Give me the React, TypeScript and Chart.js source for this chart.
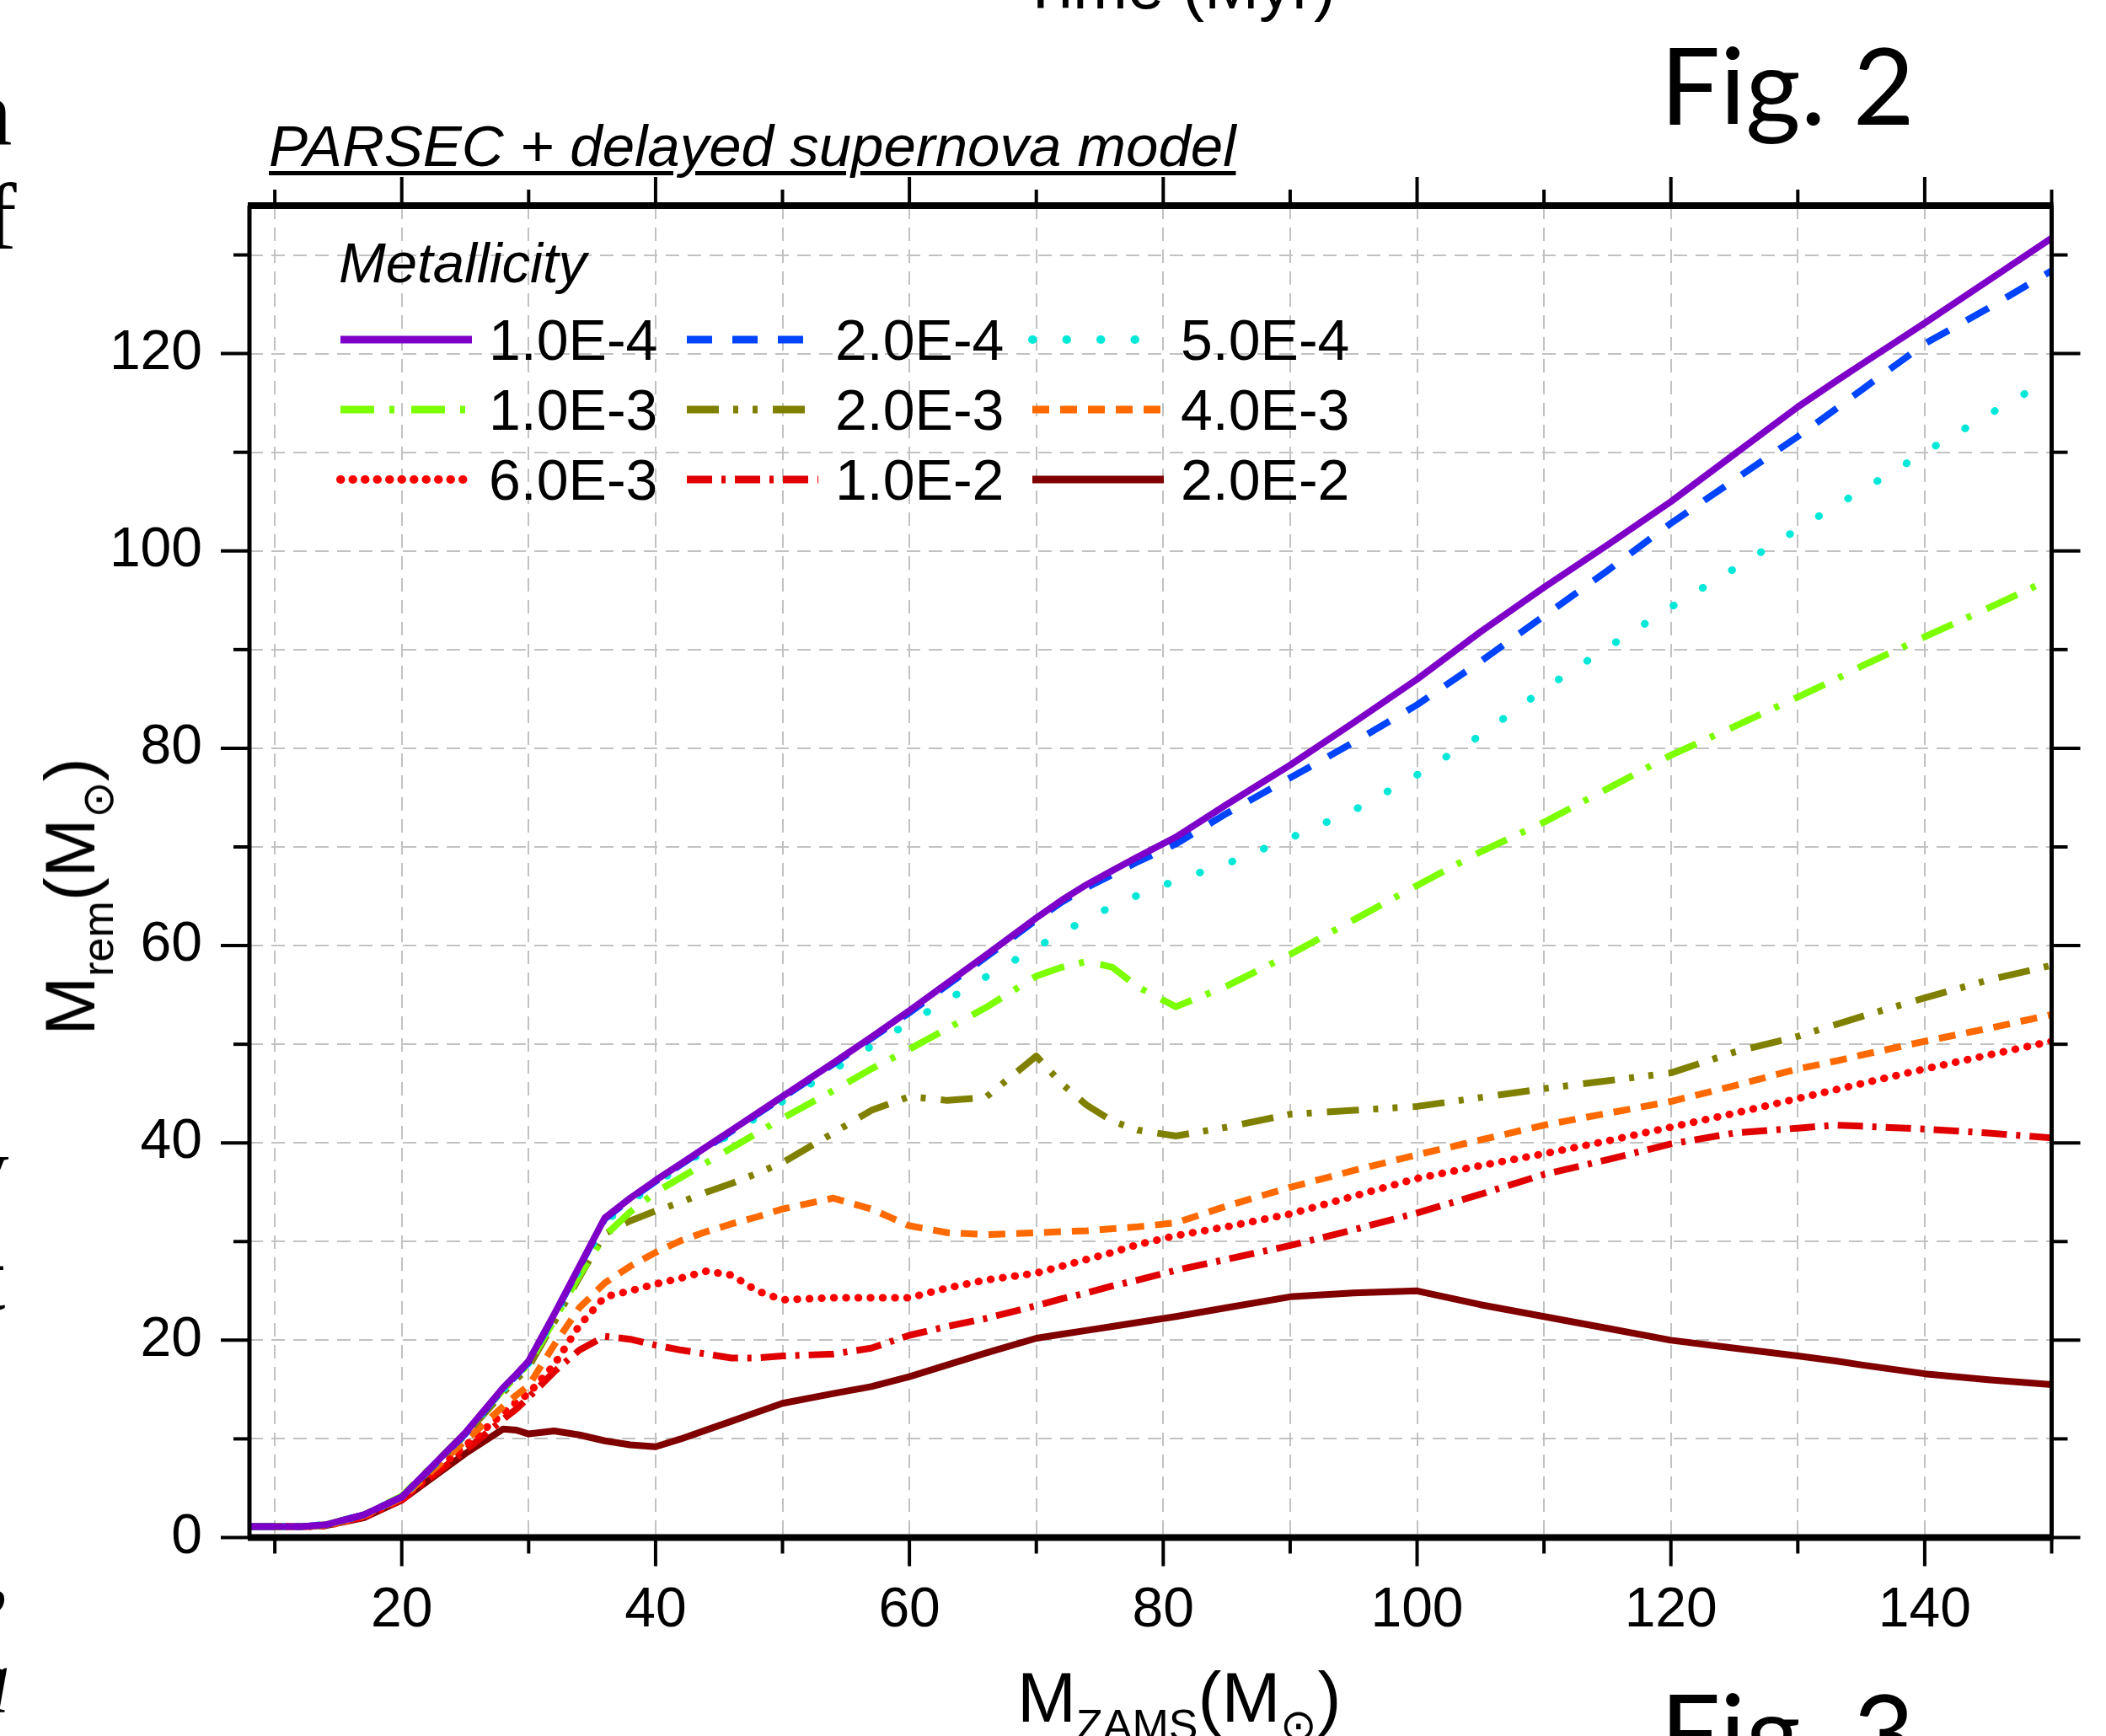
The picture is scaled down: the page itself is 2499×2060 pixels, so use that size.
import React, { useEffect, useRef } from "react";
import { Chart, registerables } from "chart.js";

Chart.register(...registerables);

// ---------------- data ----------------
const MASS = [8, 12, 14, 17, 20, 25, 28, 29, 30, 32, 34, 36, 38, 40, 42, 44, 46, 48, 50, 54, 57, 60, 63, 66, 70, 72, 74, 76, 78, 81, 85, 90, 95, 100, 105, 110, 115, 120, 125, 130, 133, 135, 140, 145, 150];

const Z_1E4 = [1.1, 1.1, 1.3, 2.3, 4.1, 10.6, 15.2, 16.5, 17.9, 22.6, 27.5, 32.4, 34.4, 36.2, 37.9, 39.6, 41.3, 43.0, 44.7, 48.1, 50.7, 53.4, 56.2, 59.0, 62.8, 64.6, 66.2, 67.6, 69.0, 71.0, 74.3, 78.3, 82.6, 87.0, 91.8, 96.3, 100.6, 105.0, 109.8, 114.6, 117.2, 118.9, 123.1, 127.4, 131.7];
const Z_2E4 = [1.1, 1.1, 1.3, 2.3, 4.1, 10.5, 15.1, 16.4, 17.8, 22.5, 27.4, 32.3, 34.3, 36.1, 37.8, 39.5, 41.2, 42.9, 44.6, 48.0, 50.6, 53.2, 56.0, 58.8, 62.6, 64.4, 65.9, 67.2, 68.5, 70.3, 73.4, 77.0, 80.6, 84.4, 88.8, 93.4, 98.0, 102.8, 107.2, 111.6, 114.4, 116.3, 121.0, 124.6, 128.4];
const Z_5E4 = [1.1, 1.1, 1.3, 2.3, 4.1, 10.5, 15.0, 16.3, 17.7, 22.4, 27.2, 32.0, 34.0, 35.9, 37.6, 39.3, 41.0, 42.6, 44.2, 47.4, 49.8, 52.2, 54.5, 56.8, 59.8, 61.3, 62.7, 64.0, 65.1, 66.6, 68.3, 70.9, 73.7, 77.3, 81.3, 86.0, 90.2, 94.3, 98.2, 102.2, 104.6, 106.1, 110.0, 113.8, 117.5];
const Z_1E3 = [1.1, 1.1, 1.3, 2.3, 4.2, 10.6, 15.0, 16.3, 17.6, 22.0, 26.6, 30.6, 33.0, 35.0, 36.5, 38.0, 39.5, 41.0, 42.5, 45.3, 47.5, 49.5, 51.6, 53.7, 56.9, 57.8, 58.4, 57.8, 55.8, 53.8, 55.9, 59.1, 62.6, 66.1, 69.5, 72.5, 75.9, 79.3, 82.2, 85.2, 87.0, 88.3, 91.3, 94.2, 97.2];
const Z_2E3 = [1.1, 1.1, 1.3, 2.3, 4.1, 10.4, 14.7, 16.0, 17.3, 21.8, 26.4, 30.8, 32.1, 33.1, 34.0, 35.0, 35.9, 36.9, 38.0, 41.0, 43.3, 44.7, 44.3, 44.6, 48.8, 46.0, 43.8, 42.2, 41.3, 40.7, 41.6, 42.9, 43.3, 43.7, 44.6, 45.5, 46.3, 47.1, 49.2, 50.8, 52.0, 52.8, 54.7, 56.5, 58.0];
const Z_4E3 = [1.1, 1.1, 1.2, 2.2, 4.0, 9.8, 13.3, 14.4, 15.4, 19.5, 23.3, 25.8, 27.5, 28.9, 30.1, 31.0, 31.8, 32.5, 33.3, 34.4, 33.3, 31.6, 30.9, 30.7, 30.9, 31.0, 31.1, 31.3, 31.5, 31.9, 33.6, 35.5, 37.2, 38.8, 40.3, 41.8, 43.0, 44.2, 45.8, 47.5, 48.3, 48.9, 50.3, 51.6, 53.0];
const Z_6E3 = [1.1, 1.1, 1.2, 2.1, 3.9, 9.3, 12.6, 13.7, 14.6, 17.5, 21.5, 24.4, 25.0, 25.7, 26.3, 27.0, 26.6, 25.0, 24.1, 24.3, 24.3, 24.3, 25.3, 26.1, 26.8, 27.5, 28.2, 28.9, 29.7, 30.6, 31.5, 32.8, 34.6, 36.4, 37.7, 38.9, 40.2, 41.6, 43.0, 44.5, 45.4, 46.0, 47.5, 48.9, 50.3];
const Z_1E2 = [1.1, 1.1, 1.2, 2.1, 3.8, 8.8, 12.0, 13.0, 14.2, 16.8, 19.0, 20.4, 20.1, 19.5, 19.0, 18.6, 18.2, 18.2, 18.4, 18.6, 19.2, 20.5, 21.4, 22.2, 23.5, 24.2, 24.8, 25.5, 26.1, 27.1, 28.2, 29.6, 31.2, 32.9, 34.8, 36.8, 38.3, 39.9, 41.0, 41.5, 41.8, 41.7, 41.4, 41.0, 40.5];
const Z_2E2 = [1.1, 1.1, 1.2, 2.0, 3.8, 8.5, 11.0, 10.9, 10.5, 10.8, 10.4, 9.8, 9.4, 9.2, 10.0, 10.9, 11.8, 12.7, 13.6, 14.6, 15.3, 16.3, 17.5, 18.7, 20.2, 20.6, 21.0, 21.4, 21.8, 22.4, 23.3, 24.4, 24.8, 25.0, 23.6, 22.4, 21.2, 20.0, 19.2, 18.4, 17.9, 17.5, 16.6, 16.0, 15.5];

const SERIES_LABELS = ["1.0E-4", "2.0E-4", "5.0E-4", "1.0E-3", "2.0E-3", "4.0E-3", "6.0E-3", "1.0E-2", "2.0E-2"];
const SERIES_VALUES = [Z_1E4, Z_2E4, Z_5E4, Z_1E3, Z_2E3, Z_4E3, Z_6E3, Z_1E2, Z_2E2];

const X_MAJOR = [20, 40, 60, 80, 100, 120, 140];
const X_MINOR = [10, 30, 50, 70, 90, 110, 130, 150];
const Y_MAJOR = [0, 20, 40, 60, 80, 100, 120];
const Y_MINOR = [10, 30, 50, 70, 90, 110, 130];
const X_GRID = [10, 20, 30, 40, 50, 60, 70, 80, 90, 100, 110, 120, 130, 140];
const Y_GRID = [10, 20, 30, 40, 50, 60, 70, 80, 90, 100, 110, 120, 130];

// ---------------- styles ----------------
const STYLES = [
  { color: "#7E00C8", dash: [], cap: "butt", width: 8 },
  { color: "#0044FF", dash: [30, 24], cap: "butt", width: 8 },
  { color: "#00E8D8", dash: [0.5, 40], cap: "round", width: 9 },
  { color: "#7CFF00", dash: [40, 18, 6, 20], cap: "butt", width: 8 },
  { color: "#808000", dash: [38, 17, 6, 17, 6, 18], cap: "butt", width: 8 },
  { color: "#FF6A00", dash: [20, 13], cap: "butt", width: 8 },
  { color: "#FF0000", dash: [0.5, 14], cap: "round", width: 9 },
  { color: "#E00000", dash: [30, 11, 5, 11], cap: "butt", width: 8 },
  { color: "#800000", dash: [], cap: "butt", width: 8 },
];

const SANS = '"Liberation Sans", Arial, sans-serif';

const gridPlugin = {
  id: "dashGrid",
  beforeDatasetsDraw(chart: any) {
    const { ctx, chartArea: a, scales } = chart;
    const x = scales.x, y = scales.y;
    ctx.save();
    ctx.strokeStyle = "#c2c2c2";
    ctx.lineWidth = 2;
    ctx.setLineDash([16, 10]);
    for (const v of X_GRID) {
      const px = Math.round(x.getPixelForValue(v));
      ctx.beginPath();
      ctx.moveTo(px, a.top);
      ctx.lineTo(px, a.bottom);
      ctx.stroke();
    }
    for (const v of Y_GRID) {
      const py = Math.round(y.getPixelForValue(v));
      ctx.beginPath();
      ctx.moveTo(a.left, py);
      ctx.lineTo(a.right, py);
      ctx.stroke();
    }
    ctx.restore();
  },
};

const framePlugin = {
  id: "frame",
  afterDatasetsDraw(chart: any) {
    const { ctx, chartArea: a, scales } = chart;
    const x = scales.x, y = scales.y;
    ctx.save();
    ctx.strokeStyle = "#000";
    ctx.setLineDash([]);
    ctx.lineWidth = 4;
    const seg = (x1: number, y1: number, x2: number, y2: number) => {
      ctx.beginPath();
      ctx.moveTo(x1, y1);
      ctx.lineTo(x2, y2);
      ctx.stroke();
    };
    const xt = (vals: number[], len: number) => {
      for (const v of vals) {
        const px = x.getPixelForValue(v);
        seg(px, a.bottom, px, a.bottom + len);
        seg(px, a.top, px, a.top - len);
      }
    };
    const yt = (vals: number[], len: number) => {
      for (const v of vals) {
        const py = y.getPixelForValue(v);
        seg(a.left, py, a.left - len, py);
        seg(a.right, py, a.right + len, py);
      }
    };
    xt(X_MAJOR, 34);
    xt(X_MINOR, 19);
    yt(Y_MAJOR, 34);
    yt(Y_MINOR, 19);
    ctx.lineWidth = 8;
    seg(a.left - 2, a.top, a.right + 2, a.top);
    seg(a.left - 2, a.bottom, a.right + 2, a.bottom);
    ctx.lineWidth = 5;
    seg(a.left, a.top, a.left, a.bottom);
    seg(a.right, a.top, a.right, a.bottom);
    ctx.restore();
  },
};

const legendPlugin = {
  id: "metalLegend",
  afterDatasetsDraw(chart: any) {
    const { ctx, chartArea: a } = chart;
    const colX = [a.left + 104, a.left + 515, a.left + 925];
    const rowY = [a.top + 159, a.top + 242, a.top + 325];
    ctx.save();
    ctx.fillStyle = "#000";
    ctx.textBaseline = "alphabetic";
    ctx.font = `italic 67px ${SANS}`;
    ctx.fillText("Metallicity", a.left + 106, a.top + 91);
    ctx.font = `68px ${SANS}`;
    chart.data.datasets.forEach((ds: any, i: number) => {
      const cx = colX[i % 3];
      const cy = rowY[Math.floor(i / 3)];
      ctx.strokeStyle = ds.borderColor;
      ctx.lineWidth = ds.borderCapStyle === "round" ? 10 : 9;
      ctx.lineCap = ds.borderCapStyle;
      ctx.setLineDash(ds.borderDash);
      ctx.beginPath();
      ctx.moveTo(cx + 4, cy);
      ctx.lineTo(cx + 160, cy);
      ctx.stroke();
      ctx.setLineDash([]);
      ctx.fillText(ds.label, cx + 180, cy + 24);
    });
    ctx.restore();
  },
};

export default function App() {
  const ref = useRef<HTMLCanvasElement | null>(null);
  useEffect(() => {
    if (!ref.current) return;
    const chart = new Chart(ref.current, {
      type: "line",
      data: {
        datasets: SERIES_VALUES.map((vals, i) => ({
          label: SERIES_LABELS[i],
          data: MASS.map((m, j) => ({ x: m, y: vals[j] })),
          borderColor: STYLES[i].color,
          backgroundColor: STYLES[i].color,
          borderWidth: STYLES[i].width,
          borderDash: STYLES[i].dash,
          borderCapStyle: STYLES[i].cap as any,
          borderJoinStyle: "round",
          pointRadius: 0,
          tension: 0,
          fill: false,
        })),
      },
      options: {
        responsive: false,
        animation: false,
        devicePixelRatio: 1,
        layout: { padding: { left: 0, top: 244, right: 64.5, bottom: 0 } },
        plugins: { legend: { display: false }, tooltip: { enabled: false } },
        scales: {
          x: {
            type: "linear",
            min: 8,
            max: 150,
            grid: { display: false, drawTicks: false, tickLength: 0 },
            border: { display: false },
            ticks: {
              stepSize: 20,
              includeBounds: false,
              autoSkip: false,
              maxRotation: 0,
              padding: 48,
              color: "#000",
              font: { family: SANS, size: 66 },
            },
            afterFit: (s: any) => {
              s.height = 235.5;
            },
          },
          y: {
            type: "linear",
            min: 0,
            max: 135,
            grid: { display: false, drawTicks: false, tickLength: 0 },
            border: { display: false },
            ticks: {
              stepSize: 20,
              includeBounds: false,
              autoSkip: false,
              padding: 56,
              color: "#000",
              font: { family: SANS, size: 66 },
            },
            afterFit: (s: any) => {
              s.width = 296;
            },
          },
        },
      } as any,
      plugins: [gridPlugin, framePlugin, legendPlugin],
    });
    return () => chart.destroy();
  }, []);

  const sub: React.CSSProperties = { fontSize: 52, lineHeight: 1, position: "relative", top: 22 };
  const abs: React.CSSProperties = { position: "absolute", whiteSpace: "nowrap", color: "#000" };
  const serif: React.CSSProperties = { ...abs, fontFamily: '"Liberation Serif", "DejaVu Serif", serif', fontSize: 113, lineHeight: "113px" };

  return (
    <div style={{ position: "absolute", left: 0, top: 0, width: 2499, height: 2060, overflow: "hidden", background: "#fff" }}>
      <canvas ref={ref} width={2499} height={2060} style={{ position: "absolute", left: 0, top: 0, width: 2499, height: 2060, display: "block" }} />
      <div style={{ ...abs, left: 1211, top: -56, fontFamily: SANS, fontSize: 78, lineHeight: "78px" }}>Time (Myr)</div>
      <div style={{ ...abs, left: 1970, top: 37, fontFamily: "Lato, sans-serif", fontSize: 126, lineHeight: "126px" }}>Fig. 2</div>
      <div style={{ ...abs, left: 1970, top: 1991, fontFamily: "Lato, sans-serif", fontSize: 126, lineHeight: "126px" }}>Fig. 3</div>
      <div style={{ ...abs, left: 319, top: 139, fontFamily: SANS, fontStyle: "italic", fontSize: 69, lineHeight: "69px", textDecoration: "underline", textDecorationThickness: 5, textUnderlineOffset: 6 }}>PARSEC + delayed supernova model</div>
      <div style={{ ...abs, left: 1207, top: 1972, fontFamily: SANS, fontSize: 84, lineHeight: "84px" }}>
        M<span style={sub}>ZAMS</span>(M<span style={sub}>⊙</span>)
      </div>
      <div style={{ ...abs, left: 83, top: 1064, transform: "translate(-50%, -50%) rotate(-90deg)", fontFamily: SANS, fontSize: 84, lineHeight: "84px" }}>
        M<span style={sub}>rem</span>(M<span style={sub}>⊙</span>)
      </div>
      <div style={{ ...serif, left: -42, top: 77 }}>n</div>
      <div style={{ ...serif, left: -18, top: 200 }}>f</div>
      <div style={{ ...serif, left: -46, top: 1330 }}>y</div>
      <div style={{ ...serif, left: -25, top: 1459 }}>t</div>
      <div style={{ ...serif, left: -16, top: 1805 }}>,</div>
      <div style={{ ...serif, left: -44, top: 1937, fontStyle: "italic" }}>a</div>
    </div>
  );
}
